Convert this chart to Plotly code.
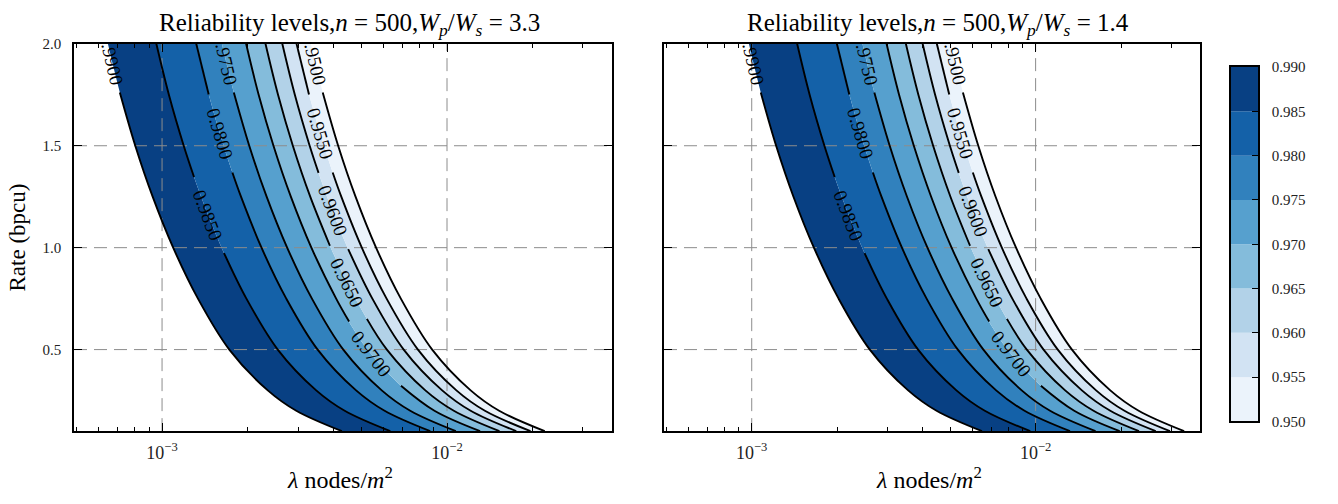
import math
import numpy as np
import plotly.graph_objects as go

W, H = 1338, 504
FONT = "Liberation Serif"

# contour levels (left-most curve first)
levels = [0.990, 0.985, 0.980, 0.975, 0.970, 0.965, 0.960, 0.955, 0.950]
# rate values (bpcu) at which each contour was read
rate = [2.0, 1.75, 1.5, 1.25, 1.0, 0.75, 0.5, 0.3, 0.2, 0.1]

# log10(lambda) of each contour at each rate, left panel (Wp/Ws = 3.3)
log_lam_left = [
    [-3.190, -3.146, -3.094, -3.033, -2.961, -2.874, -2.764, -2.629, -2.529, -2.369],
    [-3.020, -2.976, -2.924, -2.863, -2.791, -2.704, -2.594, -2.459, -2.359, -2.199],
    [-2.880, -2.836, -2.784, -2.723, -2.651, -2.564, -2.454, -2.319, -2.219, -2.059],
    [-2.790, -2.746, -2.694, -2.633, -2.561, -2.474, -2.364, -2.229, -2.129, -1.969],
    [-2.705, -2.661, -2.609, -2.548, -2.476, -2.389, -2.279, -2.144, -2.044, -1.884],
    [-2.637, -2.593, -2.541, -2.480, -2.408, -2.321, -2.211, -2.076, -1.976, -1.816],
    [-2.578, -2.534, -2.482, -2.421, -2.349, -2.262, -2.152, -2.017, -1.917, -1.757],
    [-2.528, -2.484, -2.432, -2.371, -2.299, -2.212, -2.102, -1.967, -1.867, -1.707],
    [-2.478, -2.434, -2.382, -2.321, -2.249, -2.162, -2.052, -1.917, -1.817, -1.657],
]
# right panel (Wp/Ws = 1.4)
log_lam_right = [
    [-3.010, -2.966, -2.914, -2.853, -2.781, -2.694, -2.584, -2.449, -2.349, -2.189],
    [-2.840, -2.796, -2.744, -2.683, -2.611, -2.524, -2.414, -2.279, -2.179, -2.019],
    [-2.700, -2.656, -2.604, -2.543, -2.471, -2.384, -2.274, -2.139, -2.039, -1.879],
    [-2.610, -2.566, -2.514, -2.453, -2.381, -2.294, -2.184, -2.049, -1.949, -1.789],
    [-2.525, -2.481, -2.429, -2.368, -2.296, -2.209, -2.099, -1.964, -1.864, -1.704],
    [-2.457, -2.413, -2.361, -2.300, -2.228, -2.141, -2.031, -1.896, -1.796, -1.636],
    [-2.398, -2.354, -2.302, -2.241, -2.169, -2.082, -1.972, -1.837, -1.737, -1.577],
    [-2.348, -2.304, -2.252, -2.191, -2.119, -2.032, -1.922, -1.787, -1.687, -1.527],
    [-2.298, -2.254, -2.202, -2.141, -2.069, -1.982, -1.872, -1.737, -1.637, -1.477],
]

# band colours, 0.985-0.990 (dark) down to 0.950-0.955 (light)
band_colors = ["#084083", "#1461a8", "#3181bd", "#56a0ce",
               "#84bcdb", "#b2d2e8", "#d2e3f3", "#ebf3fb"]

# inline contour labels (text as visible, rate of label centre)
label_text = [".9900", "0.9850", "0.9800", ".9750", "0.9700",
              "0.9650", "0.9600", "0.9550", ".9500"]
label_rate = [1.9, 1.16, 1.56, 1.9, 0.48, 0.83, 1.18, 1.56, 1.9]
label_top = [True, False, False, True, False, False, False, False, True]

ratio_text = ["3.3", "1.4"]

x_range = [-3.309, -1.421]
y_range = [0.1, 2.0]
x_major = [1e-3, 1e-2]
x_major_text = ["10<sup>\u22123</sup>", "10<sup>\u22122</sup>"]
x_minor = [5e-4, 6e-4, 7e-4, 8e-4, 9e-4, 2e-3, 3e-3, 4e-3, 5e-3, 6e-3,
           7e-3, 8e-3, 9e-3, 2e-2, 3e-2]
y_major = [0.5, 1.0, 1.5, 2.0]
y_major_text = ["0.5", "1.0", "1.5", "2.0"]
cb_levels = [0.950, 0.955, 0.960, 0.965, 0.970, 0.975, 0.980, 0.985, 0.990]

# ---- layout geometry (pixels) ----
panels_px = [(74, 612), (664, 1200)]
top_px, bot_px = 37, 437
cb_px = (1231, 1258, 61, 427)


def fx(p):
    return p / W


def fy(p):
    return 1 - p / H


ppd = (panels_px[0][1] - panels_px[0][0]) / (x_range[1] - x_range[0])
ppy = (bot_px - top_px) / (y_range[1] - y_range[0])


def curve_pt(row, y):
    """Position (log10 lambda) and slope d(log10 lambda)/d(rate) on a smooth
    Catmull-Rom curve through the read points, used to place labels/gaps."""
    pts = [(v * ppd, r * ppy) for v, r in zip(row, rate)]
    n = len(pts)
    k = 0
    while k < n - 2 and y < rate[k + 1]:
        k += 1
    p0 = pts[max(k - 1, 0)]
    p1 = pts[k]
    p2 = pts[k + 1]
    p3 = pts[min(k + 2, n - 1)]

    def cr(t, i):
        a, b, c, d = p0[i], p1[i], p2[i], p3[i]
        return 0.5 * (2 * b + (-a + c) * t + (2 * a - 5 * b + 4 * c - d) * t * t
                      + (-a + 3 * b - 3 * c + d) * t ** 3)

    def dcr(t, i):
        a, b, c, d = p0[i], p1[i], p2[i], p3[i]
        return 0.5 * ((-a + c) + 2 * (2 * a - 5 * b + 4 * c - d) * t
                      + 3 * (-a + 3 * b - 3 * c + d) * t * t)

    target = y * ppy
    lo, hi = 0.0, 1.0
    for _ in range(50):
        mid = 0.5 * (lo + hi)
        if cr(mid, 1) > target:
            lo = mid
        else:
            hi = mid
    t = 0.5 * (lo + hi)
    xv = cr(t, 0) / ppd
    slope = (dcr(t, 0) / ppd) / (dcr(t, 1) / ppy)
    return xv, slope


fig = go.Figure()
axes = [("x", "y"), ("x2", "y2")]
data_panels = [log_lam_left, log_lam_right]

# filled bands
for (xa, ya), rows in zip(axes, data_panels):
    for i, row in enumerate(rows):
        fig.add_trace(go.Scatter(
            x=[10 ** v for v in row], y=rate, mode="lines",
            line=dict(width=0, shape="spline", color="rgba(0,0,0,0)"),
            fill="none" if i == 0 else "tonextx",
            fillcolor=band_colors[i - 1] if i > 0 else None,
            xaxis=xa, yaxis=ya, showlegend=False, hoverinfo="skip"))

# dashed grid drawn over the fills
grid_style = dict(color="#8c8c8c", width=1, dash="13px,7px")
for xa, ya in axes:
    for xv in x_major:
        fig.add_trace(go.Scatter(x=[xv, xv], y=y_range, mode="lines", line=grid_style,
                                 xaxis=xa, yaxis=ya, showlegend=False, hoverinfo="skip"))
    for yv in y_major[:-1]:
        fig.add_trace(go.Scatter(x=[10 ** x_range[0], 10 ** x_range[1]], y=[yv, yv],
                                 mode="lines", line=grid_style,
                                 xaxis=xa, yaxis=ya, showlegend=False, hoverinfo="skip"))

annotations = []
# contour lines with gaps for labels
for (xa, ya), rows in zip(axes, data_panels):
    for i, row in enumerate(rows):
        yc = label_rate[i]
        xc, s = curve_pt(row, yc)
        dxp = -s * ppd
        ang = math.degrees(math.atan2(ppy, dxp))
        arc = math.hypot(dxp, ppy)
        gap = (30 if label_top[i] else 42) / arc
        hi, lo = yc + gap, yc - gap
        xs, ys = [], []
        for r, v in zip(rate, row):
            if r > hi + 0.03:
                xs.append(10 ** v); ys.append(r)
        if hi < y_range[1]:
            xs.append(10 ** curve_pt(row, hi)[0]); ys.append(hi)
            xs.append(None); ys.append(None)
        xs.append(10 ** curve_pt(row, lo)[0]); ys.append(lo)
        for r, v in zip(rate, row):
            if r < lo - 0.03:
                xs.append(10 ** v); ys.append(r)
        fig.add_trace(go.Scatter(x=xs, y=ys, mode="lines",
                                 line=dict(color="black", width=1.9, shape="spline"),
                                 xaxis=xa, yaxis=ya, showlegend=False, hoverinfo="skip"))
        annotations.append(dict(
            x=xc, y=yc, xref=xa, yref=ya, text=label_text[i],
            textangle=ang, showarrow=False, xanchor="center", yanchor="middle",
            font=dict(family=FONT, size=19, color="black")))

# colour bar as stacked bars
for k in range(len(cb_levels) - 1):
    fig.add_trace(go.Bar(x=[0], y=[cb_levels[k + 1] - cb_levels[k]], base=[cb_levels[k]],
                         width=[1], marker=dict(color=band_colors[::-1][k], line=dict(width=0)),
                         xaxis="x3", yaxis="y3", showlegend=False, hoverinfo="skip"))

tickfont = dict(family=FONT, size=15, color="#222")
xtickfont = dict(family=FONT, size=18, color="#222")
common_x = dict(type="log", range=x_range, showline=True, linecolor="black", linewidth=1.6,
                mirror="ticks", ticks="inside", ticklen=8, tickwidth=1, tickcolor="black",
                tickvals=x_major, ticktext=x_major_text, tickfont=xtickfont,
                showgrid=False, zeroline=False, ticklabelstandoff=4,
                minor=dict(tickvals=x_minor, ticks="inside", ticklen=4, tickcolor="black",
                           tickwidth=1, showgrid=False))
common_y = dict(range=y_range, showline=True, linecolor="black", linewidth=1.6,
                mirror="ticks", ticks="inside", ticklen=8, tickwidth=1, tickcolor="black",
                tickvals=y_major, ticktext=y_major_text, tickfont=tickfont,
                showgrid=False, zeroline=False, ticklabelstandoff=8)

fig.update_layout(
    width=W, height=H, margin=dict(l=0, r=0, t=0, b=0),
    paper_bgcolor="white", plot_bgcolor="white", barmode="overlay",
    xaxis=dict(domain=[fx(panels_px[0][0]), fx(panels_px[0][1])], anchor="y", **common_x),
    yaxis=dict(domain=[fy(bot_px), fy(top_px)], anchor="x", **common_y),
    xaxis2=dict(domain=[fx(panels_px[1][0]), fx(panels_px[1][1])], anchor="y2", **common_x),
    yaxis2=dict(domain=[fy(bot_px), fy(top_px)], anchor="x2", showticklabels=False,
                **common_y),
    xaxis3=dict(domain=[fx(cb_px[0]), fx(cb_px[1])], anchor="y3", range=[-0.5, 0.5],
                showline=True, linecolor="black", linewidth=1.6, mirror=True,
                showticklabels=False, ticks="", showgrid=False, zeroline=False),
    yaxis3=dict(domain=[fy(cb_px[3]), fy(cb_px[2])], anchor="x3", side="right",
                range=[cb_levels[0], cb_levels[-1]], showline=True, linecolor="black",
                linewidth=1.6, mirror=True, ticks="inside", ticklen=6, tickcolor="black",
                tickvals=cb_levels, ticktext=["%.3f" % v for v in cb_levels],
                tickfont=tickfont, showgrid=False, zeroline=False, ticklabelstandoff=9),
)

# titles and axis labels
for k, (x0, x1) in enumerate(panels_px):
    cx = fx((x0 + x1) / 2 + 6)
    annotations.append(dict(
        x=cx, y=fy(17), xref="paper", yref="paper", showarrow=False,
        xanchor="center", yanchor="middle",
        text=("Reliability levels,<i>n</i> = 500,<i>W</i><sub><i>p</i></sub>/"
              "<i>W</i><sub><i>s</i></sub> = " + ratio_text[k]),
        font=dict(family=FONT, size=25, color="black")))
    annotations.append(dict(
        x=fx((x0 + x1) / 2 - 3), y=fy(485), xref="paper", yref="paper", showarrow=False,
        xanchor="center", yanchor="middle",
        text="<i>\u03bb</i> nodes/<i>m</i><sup>2</sup>",
        font=dict(family=FONT, size=24, color="black")))
annotations.append(dict(
    x=fx(17), y=fy(237), xref="paper", yref="paper", showarrow=False, textangle=-90,
    xanchor="center", yanchor="middle", text="Rate (bpcu)",
    font=dict(family=FONT, size=23, color="black")))

fig.update_layout(annotations=annotations)
fig.write_html("out.html")
